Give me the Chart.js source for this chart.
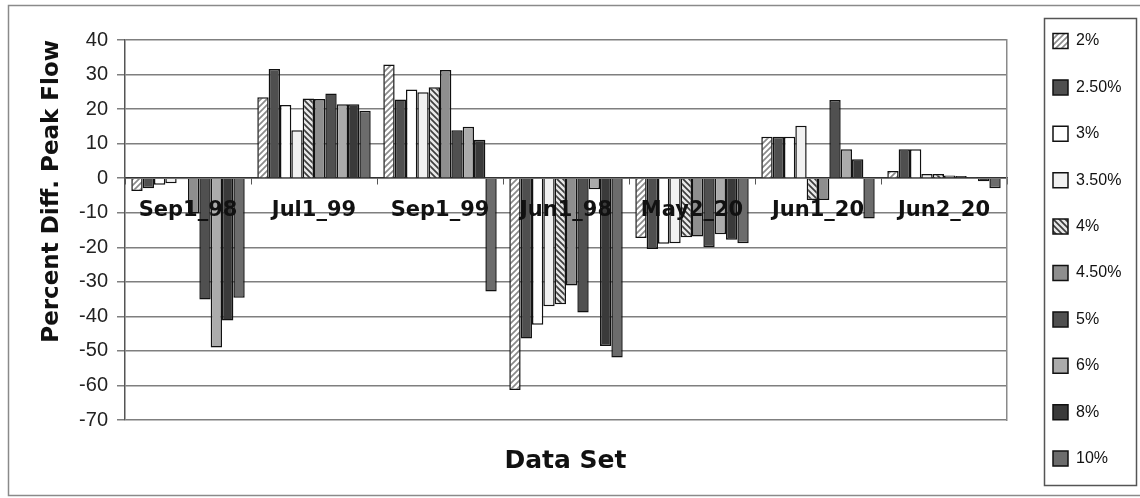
<!DOCTYPE html>
<html>
<head>
<meta charset="utf-8">
<title>Percent Diff. Peak Flow</title>
<script src="https://cdn.jsdelivr.net/npm/chart.js@4.4.1/dist/chart.umd.min.js"></script>
<style>
  html, body { margin: 0; padding: 0; background: #fff; overflow: hidden; }
  #wrap { width: 1140px; height: 498px; }
</style>
</head>
<body>
<div id="wrap"><canvas id="chart" width="1140" height="498"></canvas></div>
<script>
// ── Data ─────────────────────────────────────────────────────
const categories = ['Sep1_98', 'Jul1_99', 'Sep1_99', 'Jun1_98', 'May2_20', 'Jun1_20', 'Jun2_20'];
const seriesLabels = ['2%', '2.50%', '3%', '3.50%', '4%', '4.50%', '5%', '6%', '8%', '10%'];

const p2  = [-3.7,  23.4,  32.9, -61.3, -17.3,  12.0,  2.1];
const p25 = [-2.9,  31.6,  22.8, -46.4, -20.5,  12.0,  8.4];
const p3  = [-1.9,  21.2,  25.7, -42.4, -19.0,  12.0,  8.4];
const p35 = [-1.5,  13.9,  24.9, -37.1, -18.8,  15.2,  1.2];
const p4  = [-0.3,  23.1,  26.3, -36.5, -17.1,  -6.3,  1.2];
const p45 = [-10.2, 22.9,  31.3, -31.1, -16.9,  -6.3,  0.8];
const p5  = [-35.1, 24.5,  13.9, -38.9, -20.0,  22.6,  0.6];
const p6  = [-49.0, 21.4,  14.9,  -3.2, -16.2,   8.4,  0.3];
const p8  = [-41.2, 21.4,  11.1, -48.6, -17.8,   5.5, -0.9];
const p10 = [-34.6, 19.5, -32.8, -51.9, -18.8, -11.7, -2.9];

const yMin = -70;
const yMax = 40;
const yStep = 10;

// ── Fills ────────────────────────────────────────────────────
// small hatch tiles for the two striped series
function hatch(up, fg, bg) {
  const c = document.createElement('canvas');
  c.width = c.height = 6;
  const g = c.getContext('2d');
  g.fillStyle = bg;
  g.fillRect(0, 0, 6, 6);
  g.strokeStyle = fg;
  g.lineWidth = 1.7;
  g.beginPath();
  if (up) {
    g.moveTo(0, 6); g.lineTo(6, 0);
    g.moveTo(-3, 3); g.lineTo(3, -3);
    g.moveTo(3, 9); g.lineTo(9, 3);
  } else {
    g.moveTo(0, 0); g.lineTo(6, 6);
    g.moveTo(-3, 3); g.lineTo(3, 9);
    g.moveTo(3, -3); g.lineTo(9, 3);
  }
  g.stroke();
  return g.createPattern(c, 'repeat');
}

const fills = [
  hatch(true, '#8a8a8a', '#ffffff'),
  '#4f4f4f',
  '#ffffff',
  '#f1f1f1',
  hatch(false, '#3c3c3c', '#e8e8e8'),
  '#8e8e8e',
  '#505050',
  '#ababab',
  '#3a3a3a',
  '#6c6c6c',
];

const seriesData = [p2, p25, p3, p35, p4, p45, p5, p6, p8, p10];

// ── Frame plugin: white page, outer border, legend box ──────
const framePlugin = {
  id: 'frame',
  beforeDraw(chart) {
    const ctx = chart.ctx;
    const lg = chart.legend;
    ctx.save();
    ctx.fillStyle = '#fff';
    ctx.fillRect(0, 0, chart.width, chart.height);
    ctx.strokeStyle = '#8a8a8a';
    ctx.lineWidth = 1.5;
    ctx.strokeRect(8.5, 5.5, chart.width, chart.height - 8);
    ctx.strokeStyle = '#555';
    ctx.lineWidth = 1.5;
    ctx.strokeRect(lg.left + 6.5, lg.top + 0.5, 92, 467);
    ctx.restore();
  }
};

const LEFT_PAD = 9;

new Chart(document.getElementById('chart'), {
  type: 'bar',
  data: {
    labels: categories,
    datasets: seriesLabels.map((label, i) => ({
      label,
      data: seriesData[i],
      backgroundColor: fills[i],
      borderColor: '#111',
      borderWidth: 1.5,
      categoryPercentage: 0.9,
      barPercentage: 1.0,
      yAxisID: 'y',
    })),
  },
  options: {
    responsive: false,
    animation: false,
    layout: { padding: { top: 18, left: LEFT_PAD, right: 18, bottom: 0 } },
    plugins: {
      tooltip: { enabled: false },
      subtitle: {
        display: true,
        text: ' ',
        fullSize: false,
        color: 'rgba(0,0,0,0)',
        font: { size: 10, lineHeight: 1 },
        padding: { top: 6, bottom: 6 },
      },
      title: {
        display: true,
        position: 'bottom',
        text: 'Data Set',
        color: '#111',
        font: { family: 'DejaVu Sans', weight: 'bold', size: 25, lineHeight: 1.2 },
        padding: { top: 26, bottom: 22 },
      },
      legend: {
        position: 'right',
        align: 'start',
        maxWidth: 84,
        labels: {
          boxWidth: 15,
          boxHeight: 15,
          padding: 15,
          color: '#111',
          font: { family: 'Liberation Sans', size: 16, lineHeight: '31.4px' },
          generateLabels(chart) {
            return Chart.defaults.plugins.legend.labels.generateLabels(chart)
              .map(item => Object.assign(item, { text: [item.text] }));
          },
        },
      },
    },
    scales: {
      x: {
        position: { y: 0 },
        grid: {
          display: true,
          drawOnChartArea: false,
          drawTicks: true,
          tickLength: 6,
          color: '#555',
          lineWidth: 1,
          offset: true,
        },
        border: { display: true, color: '#333', width: 1.5 },
        ticks: {
          z: 1,               // category names sit on top of the bars
          autoSkip: false,
          maxRotation: 0,
          padding: 13.5,
          color: '#111',
          font: { family: 'DejaVu Sans', weight: 'bold', size: 21 },
        },
      },
      y: {
        position: 'left',
        min: yMin,
        max: yMax,
        afterFit(scale) { scale.width = 125 - LEFT_PAD; },
        ticks: {
          stepSize: yStep,
          padding: 9,
          color: '#222',
          font: { family: "'Liberation Sans Narrow', 'Arial Narrow', 'Liberation Sans'", size: 20 },
        },
        grid: {
          color: '#7f7f7f',
          lineWidth: 1.5,
          drawTicks: true,
          tickLength: 8,
        },
        border: { display: true, color: '#555', width: 1.5 },
        title: {
          display: true,
          text: 'Percent Diff. Peak Flow',
          align: 'end',
          color: '#111',
          font: { family: 'DejaVu Sans', weight: 'bold', size: 23, lineHeight: 1.2 },
          padding: { top: 29, bottom: 0 },
        },
      },
      y2: {
        position: 'right',
        display: true,
        afterFit(scale) { scale.width = 31; },
        ticks: { display: false },
        grid: { display: false, drawTicks: false },
        border: { display: true, color: '#8a8a8a', width: 1.5 },
      },
    },
  },
  plugins: [framePlugin],
});
</script>
</body>
</html>
